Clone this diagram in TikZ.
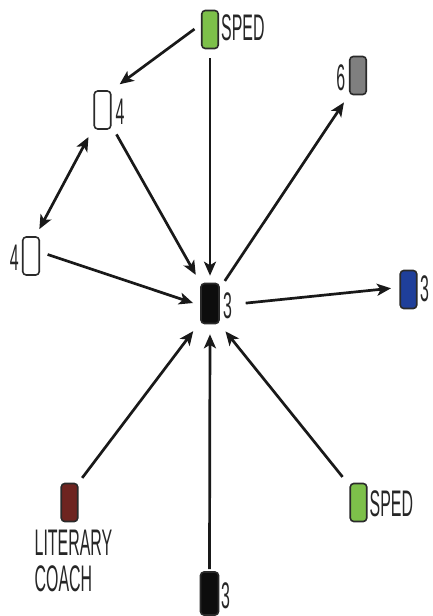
\documentclass[tikz,border=0pt]{standalone}
\usepackage{fontspec}
\setmainfont{Liberation Sans}[FakeStretch=0.43]
\usetikzlibrary{arrows.meta}
\definecolor{spedgreen}{HTML}{7DC04A}
\definecolor{coachred}{HTML}{6E2420}
\definecolor{sixgray}{HTML}{7F7F7F}
\definecolor{bluefill}{HTML}{1F3F9A}
\definecolor{boxline}{HTML}{2A2A2A}
\begin{document}
\begin{tikzpicture}[x=1pt,y=-1pt,
  box/.style={draw=boxline,line width=1.6pt,rounded corners=3.5pt,minimum width=16.5pt,minimum height=38pt,inner sep=0pt},
  lbl/.style={inner sep=0pt,font=\fontsize{37}{36}\selectfont,text=black!85},
  arr/.style={line width=2.7pt,draw=black!90,-{Stealth[length=14pt,width=12pt,inset=3.5pt]}},
  darr/.style={line width=2.7pt,draw=black!90,{Stealth[length=14pt,width=12pt,inset=3.5pt]}-{Stealth[length=14pt,width=12pt,inset=3.5pt]}}]
\useasboundingbox (0,0) rectangle (432,616);

% boxes
\node[box,fill=spedgreen] (sped1) at (210,29.5) {};
\node[box,fill=white] (a4) at (102.5,110) {};
\node[box,fill=white] (b4) at (31,256) {};
\node[box,fill=black!95,minimum width=18pt,minimum height=40pt] (c) at (210,303.5) {};
\node[box,fill=sixgray] (six) at (358,75.5) {};
\node[box,fill=bluefill] (blue) at (408.5,289.5) {};
\node[box,fill=coachred] (coach) at (69.5,502.5) {};
\node[box,fill=black!95,minimum width=18pt,minimum height=43pt] (bot) at (209.5,593.5) {};
\node[box,fill=spedgreen] (sped2) at (358.5,502.5) {};

% labels
\node[lbl,anchor=base west] (sped1l) at (221,40) {SPED};
\node[lbl,anchor=base west] (a4l) at (115.5,124) {4};
\node[lbl,anchor=base east] (b4l) at (19,270.5) {4};
\node[lbl,anchor=base west] (cl) at (223,318) {3};
\node[lbl,anchor=base east] (sixl) at (345.5,90) {6};
\node[lbl,anchor=base west] (bluel) at (420,301) {3};
\node[lbl,anchor=base west] (sped2l) at (369.5,516) {SPED};
\node[lbl,anchor=base west] (botl) at (221,608) {3};
\node[lbl,anchor=base west,align=left] (coachl) at (34.5,591) {LITERARY\\COACH};

% connectors
\draw[arr,shorten <=8pt,shorten >=10pt] (sped1.150) -- (a4.north east);
\draw[arr,shorten <=9pt,shorten >=7pt] (sped1.south) -- (c.north);
\draw[arr,shorten <=10pt,shorten >=9pt] (a4.-60) -- (c.north west);
\draw[darr,shorten <=8pt,shorten >=10.5pt] (b4.77) -- (a4.243);
\draw[arr,shorten <=8pt,shorten >=7.5pt] (b4.24) -- (c.191);
\draw[arr,shorten <=9pt,shorten >=9pt] (c.57) -- (six.245);
\draw[arr,shorten <=26pt,shorten >=8.5pt] (c.-13) -- (blue.167);
\draw[arr,shorten <=6pt,shorten >=11.5pt] (coach.north east) -- (c.242);
\draw[arr,shorten <=2pt,shorten >=10pt] (bot.north) -- (c.south);
\draw[arr,shorten <=11pt,shorten >=9pt] (sped2.118) -- (c.south east);
\end{tikzpicture}
\end{document}
